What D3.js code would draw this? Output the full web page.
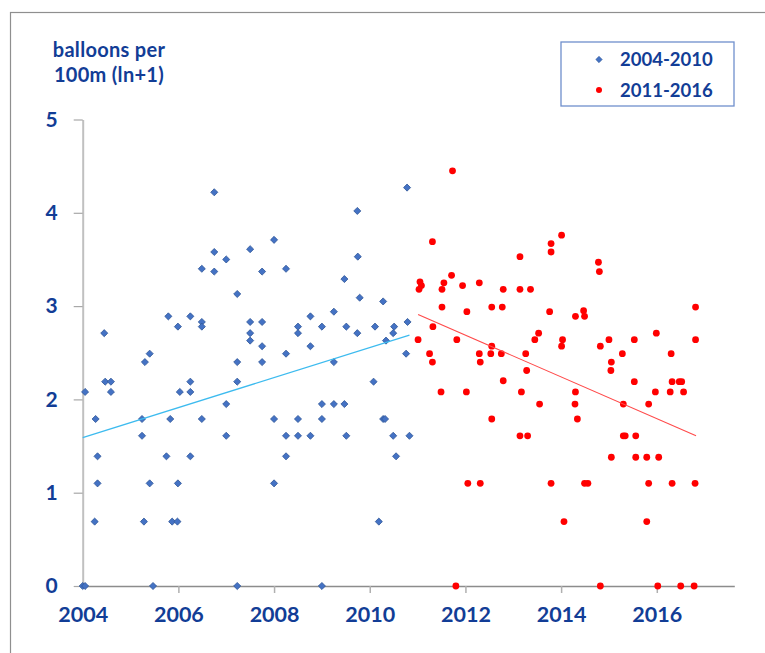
<!DOCTYPE html>
<html>
<head>
<meta charset="utf-8">
<script src="https://cdn.jsdelivr.net/npm/d3@7"></script>
<style>
  html, body { margin: 0; padding: 0; background: #fff; }
  svg { display: block; }
  text { font-family: Lato, "Open Sans", sans-serif; font-weight: bold; fill: #123d96; }
</style>
</head>
<body>
<svg id="chart" width="765" height="653"></svg>
<script>
// ---- data ----
const blueYears = [2006.75,2006.75,2007.00,2006.49,2006.75,2007.23,2004.45,2005.79,2006.25,2005.99,
  2006.49,2006.49,2005.30,2005.40,2007.23,2004.47,2004.59,2006.25,2007.23,2004.05,
  2004.59,2006.03,2006.25,2007.00,2004.27,2005.24,2005.83,2006.49,2005.24,2007.00,
  2004.31,2005.75,2006.25,2004.31,2005.40,2005.99,2004.25,2005.28,2005.87,2005.98,
  2004.00,2004.05,2005.47,2007.23,
  2010.78,2009.74,2008.00,2007.50,2007.75,2008.25,2009.75,2009.47,2009.79,2010.28,
  2007.50,2007.75,2007.50,2007.50,2007.75,2007.75,2008.25,2008.50,2008.50,2008.76,
  2008.76,2009.00,2009.25,2009.25,2009.51,2009.74,2010.11,2010.51,2010.49,2010.34,
  2010.79,2010.76,2010.08,2008.00,2008.50,2009.00,2009.25,2009.47,2009.00,2010.28,
  2010.32,2008.25,2008.50,2008.76,2009.51,2010.49,2010.83,2008.25,2010.55,2008.00,
  2010.19,2009.00];
const blueValues = [4.22,3.58,3.50,3.40,3.37,3.13,2.71,2.89,2.89,2.78,
  2.83,2.78,2.40,2.49,2.40,2.19,2.19,2.19,2.19,2.08,
  2.08,2.08,2.08,1.95,1.79,1.79,1.79,1.79,1.61,1.61,
  1.39,1.39,1.39,1.10,1.10,1.10,0.69,0.69,0.69,0.69,
  0,0,0,0,
  4.27,4.02,3.71,3.61,3.37,3.40,3.53,3.29,3.09,3.05,
  2.83,2.83,2.71,2.63,2.57,2.40,2.49,2.78,2.71,2.89,
  2.57,2.78,2.94,2.40,2.78,2.71,2.78,2.78,2.71,2.63,
  2.83,2.49,2.19,1.79,1.79,1.95,1.95,1.95,1.79,1.79,
  1.79,1.61,1.61,1.61,1.61,1.61,1.61,1.39,1.39,1.10,
  0.69,0];

const redYears = [2011.73,2011.31,2014.01,2013.79,2013.79,2013.14,2011.71,2011.05,2011.08,2011.03,
  2011.55,2011.51,2011.94,2012.29,2012.79,2013.14,2013.36,2011.51,2012.03,2012.55,
  2012.77,2013.76,2011.32,2011.01,2011.82,2011.25,2011.31,2012.29,2012.31,2012.55,
  2012.53,2012.75,2013.26,2013.45,2013.53,2014.03,2014.01,2013.28,2012.79,2011.49,
  2012.02,2013.17,2013.55,2012.55,2013.14,2013.30,2012.05,2012.31,2013.79,2014.06,
  2011.80,
  2014.78,2014.80,2016.81,2014.47,2014.30,2014.49,2015.99,2015.00,2015.53,2016.81,
  2014.82,2015.28,2016.30,2015.05,2015.04,2015.53,2016.32,2016.47,2016.52,2014.30,
  2015.97,2016.28,2016.56,2014.29,2015.30,2015.83,2014.34,2015.30,2015.34,2015.56,
  2015.05,2015.56,2015.79,2016.04,2014.49,2014.56,2015.83,2016.32,2016.80,2015.79,
  2014.82,2016.02,2016.50,2016.78];
const redValues = [4.45,3.69,3.76,3.67,3.58,3.53,3.33,3.26,3.22,3.18,
  3.25,3.18,3.22,3.25,3.18,3.18,3.18,2.99,2.94,2.99,
  2.99,2.94,2.78,2.64,2.64,2.49,2.40,2.49,2.40,2.57,
  2.49,2.49,2.49,2.64,2.71,2.64,2.57,2.31,2.20,2.08,
  2.08,2.08,1.95,1.79,1.61,1.61,1.10,1.10,1.10,0.69,
  0,
  3.47,3.37,2.99,2.95,2.89,2.89,2.71,2.64,2.64,2.64,
  2.57,2.49,2.49,2.40,2.31,2.19,2.19,2.19,2.19,2.08,
  2.08,2.08,2.08,1.95,1.95,1.95,1.79,1.61,1.61,1.61,
  1.38,1.38,1.38,1.38,1.10,1.10,1.10,1.10,1.10,0.69,
  0,0,0,0];

// trend lines (endpoints)
const blueTrendYears = [2004.0, 2010.83];
const blueTrendValues = [1.59, 2.69];
const redTrendYears = [2011.01, 2016.82];
const redTrendValues = [2.91, 1.61];

const xTicks = [2004, 2006, 2008, 2010, 2012, 2014, 2016];
const yTicks = [0, 1, 2, 3, 4, 5];
const legendLabels = ["2004-2010", "2011-2016"];
const yTitleLines = ["balloons per", "100m (ln+1)"];

// ---- drawing ----
const svg = d3.select("#chart");
const x = d3.scaleLinear().domain([2004, 2017.62]).range([82.7, 734.3]);
const y = d3.scaleLinear().domain([0, 5]).range([586, 119.5]);

// outer frame (cropped at right and bottom)
svg.append("rect").attr("x", 10.5).attr("y", 12.5).attr("width", 800).attr("height", 700)
  .attr("fill", "none").attr("stroke", "#8f8f8f").attr("stroke-width", 1.2);

// y axis
const yAxis = svg.append("g").attr("transform", `translate(${x(2004)},0)`)
  .call(d3.axisLeft(y).tickValues(yTicks).tickFormat(d3.format("d")).tickSize(9).tickSizeOuter(0).tickPadding(22));
yAxis.select(".domain").attr("stroke", "#c0c0c0").attr("stroke-width", 2);
yAxis.selectAll(".tick line").attr("stroke", "#a8a8a8").attr("stroke-width", 1.2);
yAxis.selectAll(".tick text").attr("font-size", 21).attr("fill", "#123d96")
  .attr("font-family", "Lato").attr("font-weight", "bold").attr("text-anchor", "middle");

// x axis
const xAxis = svg.append("g").attr("transform", `translate(0,${y(0)})`)
  .call(d3.axisBottom(x).tickValues(xTicks).tickFormat(d3.format("d")).tickSize(7).tickSizeOuter(0).tickPadding(14));
xAxis.select(".domain").attr("stroke", "#8c8c8c").attr("stroke-width", 1.5);
xAxis.selectAll(".tick line").attr("stroke", "#b0b0b0").attr("stroke-width", 1.5);
xAxis.selectAll(".tick").filter(d => d === 2004).select("line").remove();
xAxis.selectAll(".tick text").attr("font-size", 21.5).attr("fill", "#123d96")
  .attr("font-family", "Lato").attr("font-weight", "bold");

// y title
svg.append("g").selectAll("text").data(yTitleLines).join("text")
  .attr("x", 109).attr("y", (d, i) => 56.5 + i * 25.5)
  .attr("text-anchor", "middle").attr("font-size", 20).attr("letter-spacing", 0.3).text(d => d);

// markers
const blueData = blueYears.map((d, i) => ({ year: d, value: blueValues[i] }));
const redData = redYears.map((d, i) => ({ year: d, value: redValues[i] }));
const diamond = d3.symbol().type(d3.symbolDiamond2).size(32);
svg.append("g").selectAll("path").data(blueData).join("path")
  .attr("d", diamond)
  .attr("transform", d => `translate(${x(d.year)},${y(d.value)})`)
  .attr("fill", "#4472c4").attr("stroke", "#2f5597").attr("stroke-width", 0.8);

svg.append("g").selectAll("circle").data(redData).join("circle")
  .attr("cx", d => x(d.year)).attr("cy", d => y(d.value)).attr("r", 3.4)
  .attr("fill", "#ff0000");

// trend lines
const line = d3.line().x(d => x(d[0])).y(d => y(d[1]));
svg.append("path").datum(blueTrendYears.map((d, i) => [d, blueTrendValues[i]]))
  .attr("d", line).attr("fill", "none").attr("stroke", "#3dbbef").attr("stroke-width", 1.3);
svg.append("path").datum(redTrendYears.map((d, i) => [d, redTrendValues[i]]))
  .attr("d", line).attr("fill", "none").attr("stroke", "#ff4a4a").attr("stroke-width", 1.1);

// legend
const lg = svg.append("g");
lg.append("rect").attr("x", 561).attr("y", 42).attr("width", 173).attr("height", 64)
  .attr("fill", "#fff").attr("stroke", "#6f8fcc").attr("stroke-width", 1.3);
lg.append("path").attr("d", d3.symbol().type(d3.symbolDiamond2).size(26))
  .attr("transform", "translate(599,59.5)").attr("fill", "#4472c4").attr("stroke", "#2f5597").attr("stroke-width", 0.6);
lg.append("circle").attr("cx", 599).attr("cy", 90).attr("r", 3).attr("fill", "#ff0000");
lg.selectAll("text").data(legendLabels).join("text")
  .attr("x", 620).attr("y", (d, i) => 66 + i * 30.5)
  .attr("font-size", 18.5).text(d => d);
</script>
</body>
</html>
